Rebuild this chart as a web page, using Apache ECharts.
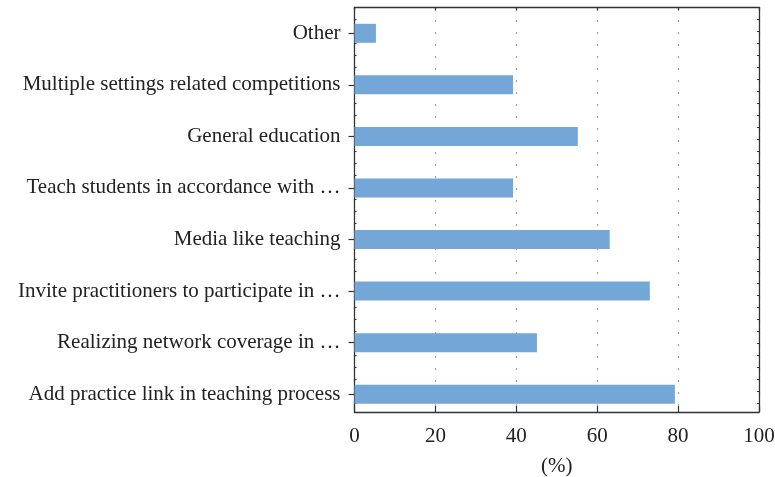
<!DOCTYPE html>
<html>
<head>
<meta charset="utf-8">
<script src="https://cdn.jsdelivr.net/npm/echarts@6/dist/echarts.min.js"></script>
<style>html,body{margin:0;padding:0;background:#fff;}#c{width:775px;height:477px;}</style>
</head>
<body>
<div id="c"></div>
<script>
const categories = [
  "Other",
  "Multiple settings related competitions",
  "General education",
  "Teach students in accordance with \u2026",
  "Media like teaching",
  "Invite practitioners to participate in \u2026",
  "Realizing network coverage in \u2026",
  "Add practice link in teaching process"
];
const values = [5.3, 39.2, 55.2, 39.2, 63.1, 73.0, 45.1, 79.2];
const xTicks = [0, 20, 40, 60, 80, 100];

const FONT = "Liberation Serif";
const axisColor = "#333";
const chart = echarts.init(document.getElementById('c'), null, {renderer: 'canvas'});
chart.setOption({
  animation: false,
  backgroundColor: '#fff',
  grid: [
    {left: 354.5, right: 16, top: 7.5, bottom: 57, containLabel: false, outerBoundsMode: 'none'},
    {left: 354.5, right: 16, top: 7.5, bottom: 65, containLabel: false, outerBoundsMode: 'none'}
  ],
  xAxis: [
    {gridIndex: 0, type: 'value', min: xTicks[0], max: xTicks[xTicks.length-1], interval: 20, show: false},
    {gridIndex: 1, type: 'value', position: 'bottom', min: xTicks[0], max: xTicks[xTicks.length-1], interval: 20,
     axisLine: {show: true, onZero: false, lineStyle: {color: axisColor, width: 1.3}},
     axisTick: {show: true, inside: true, length: 6, lineStyle: {color: axisColor, width: 1.2}},
     axisLabel: {color: '#222', fontFamily: FONT, fontSize: 21, margin: 14},
     splitLine: {show: true, lineStyle: {color: '#444', width: 1.2, type: [1, 11], dashOffset: -1}},
     name: '(%)', nameLocation: 'middle', nameGap: 44,
     nameTextStyle: {color: '#222', fontFamily: FONT, fontSize: 21}
    },
    {gridIndex: 1, type: 'value', position: 'top', min: xTicks[0], max: xTicks[xTicks.length-1], interval: 20,
     axisLine: {show: true, onZero: false, lineStyle: {color: axisColor, width: 1.3}},
     axisTick: {show: true, inside: true, length: 3, lineStyle: {color: axisColor, width: 1.2}},
     axisLabel: {show: false}, splitLine: {show: false}
    }
  ],
  yAxis: [
    {gridIndex: 0, type: 'category', data: categories, inverse: true,
     axisLine: {show: false, onZero: false},
     axisTick: {show: true, alignWithLabel: true, length: 6, lineStyle: {color: axisColor, width: 1.2}},
     axisLabel: {color: '#222', fontFamily: FONT, fontSize: 21, margin: 14, interval: 0},
     splitLine: {show: false}
    },
    {gridIndex: 1, type: 'value', position: 'left', min: 0, max: 33.7, interval: 1, inverse: true,
     axisLine: {show: true, onZero: false, lineStyle: {color: axisColor, width: 1.3}},
     axisTick: {show: true, inside: true, length: 2, lineStyle: {color: axisColor, width: 1}},
     axisLabel: {show: false}, splitLine: {show: false}
    },
    {gridIndex: 1, type: 'value', position: 'right', min: 0, max: 33.7, interval: 1, inverse: true,
     axisLine: {show: true, onZero: false, lineStyle: {color: axisColor, width: 1.3}},
     axisTick: {show: true, inside: true, length: 2, lineStyle: {color: axisColor, width: 1}},
     axisLabel: {show: false}, splitLine: {show: false}
    }
  ],
  series: [{
    type: 'bar', xAxisIndex: 0, yAxisIndex: 0, data: values, barWidth: 19,
    itemStyle: {color: '#74a6d8'}, z: 5
  }]
});
</script>
</body>
</html>
